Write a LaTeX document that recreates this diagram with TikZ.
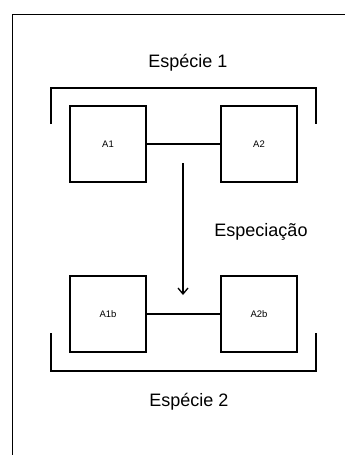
\documentclass[tikz,border=0pt]{standalone}
\usepackage{fontspec}
\setmainfont{Liberation Sans}
\usetikzlibrary{arrows.meta}
\begin{document}
\begin{tikzpicture}[x=1pt,y=-1pt,
  box/.style={draw=black,line width=1.3pt,minimum size=76pt,inner sep=0pt,font=\fontsize{9.5}{11}\selectfont},
  big/.style={font=\fontsize{18}{21}\selectfont,inner sep=0pt},
  link/.style={line width=1.3pt},
  brk/.style={line width=1.3pt}]
\useasboundingbox (0,0) rectangle (345,455);
\draw[line width=0.8pt] (12,455) -- (12,14) -- (345,14);
\node[big] (t1) at (188,63) {Espécie 1};
\node[big] (t2) at (261,232) {Especiação};
\node[big] (t3) at (189,402) {Espécie 2};
\node[box] (a1) at (108,144) {A1};
\node[box] (a2) at (259,144) {A2};
\node[box] (a1b) at (108,314) {A1b};
\node[box] (a2b) at (259,314) {A2b};
\draw[link] (a1) -- (a2);
\draw[link] (a1b) -- (a2b);
\draw[brk] (51,124) -- (51,88) -- (316,88) -- (316,124);
\draw[brk] (51,333) -- (51,371) -- (316,371) -- (316,333);
\coordinate (s) at (183,163);
\coordinate (e) at (183,295);
\draw[link,-{Straight Barb[length=6pt,width=10pt]}] (s) -- (e);
\end{tikzpicture}
\end{document}
